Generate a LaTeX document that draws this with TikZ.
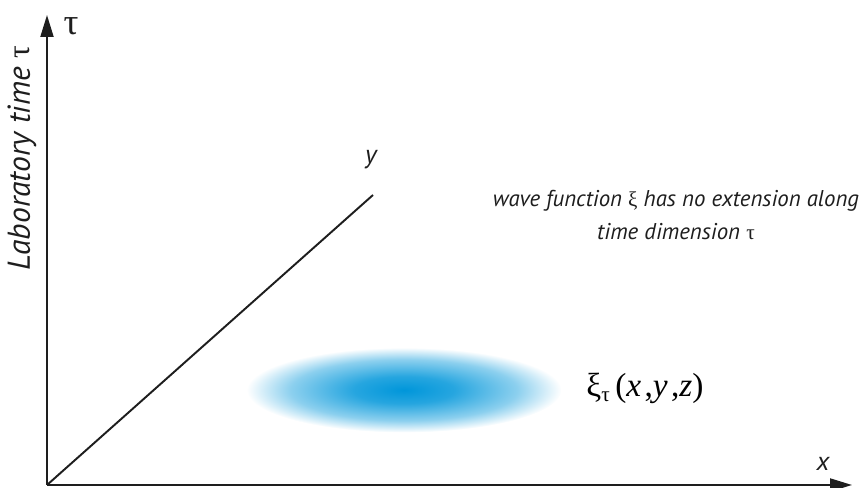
\documentclass[tikz,border=0pt]{standalone}
\usepackage{fontspec}
\setmainfont{PT Sans}
\newfontfamily\greekfont{Liberation Serif}
\usepackage{xcolor}
\usepackage{tikz}
\usetikzlibrary{arrows.meta,positioning}
\definecolor{blobblue}{RGB}{0,150,218}
\definecolor{axisdark}{RGB}{30,30,30}
\pgfdeclareradialshading{wavepacket}{\pgfpoint{0bp}{0bp}}{%
  color(0bp)=(blobblue); color(8bp)=(blobblue!85); color(18bp)=(blobblue!45);
  color(25bp)=(white); color(50bp)=(white)}

\begin{document}
\begin{tikzpicture}[
  axis/.style={line width=1.1pt,color=axisdark},
  arr/.style={axis,-{Triangle[length=0.44cm,width=0.26cm]}},
  lbl/.style={font=\fontsize{15}{18}\selectfont\itshape,color=axisdark,inner sep=0pt},
  note/.style={font=\fontsize{13}{19}\selectfont\itshape,color=axisdark,align=center,inner sep=0pt}
]
\useasboundingbox (0,0) rectangle (17.22,9.76);

% axes
\coordinate (O)    at (0.94,0.06);
\coordinate (ttip) at (0.94,9.46);
\coordinate (xtip) at (17.04,0.06);
\coordinate (yend) at (7.46,5.86);

\draw[arr] (O)--(ttip);
\draw[arr] (O)--(xtip);
\draw[axis] (O)--(yend);

\node[lbl,font=\fontsize{21}{22}\selectfont\greekfont] (tau) at (1.42,9.24) {τ};
\node[lbl] (ylbl) at (7.42,6.56) {y};
\node[lbl] (xlbl) at (16.46,0.48) {x};
\node[lbl,font=\fontsize{18}{20}\selectfont\itshape,rotate=90] (lab) at (0.44,6.6)
  {Laboratory time {\upshape\greekfont τ}};

% wave packet
\shade[shading=wavepacket] (8.08,1.96) ellipse (3.15 and 0.85);
\node[font=\fontsize{19}{22}\selectfont\greekfont,inner sep=0pt] (xi) at (12.9,2.0)
  {ξ\raisebox{-0.35ex}{\fontsize{12}{12}\selectfont τ}\,(\textit{x}\kern0.1em,\textit{y}\kern0.1em,\textit{z})};

\node[note] (desc) at (13.52,5.46) {wave function {\upshape\greekfont\large ξ} has no extension along\\time dimension {\upshape\greekfont\large τ}};
\end{tikzpicture}
\end{document}
